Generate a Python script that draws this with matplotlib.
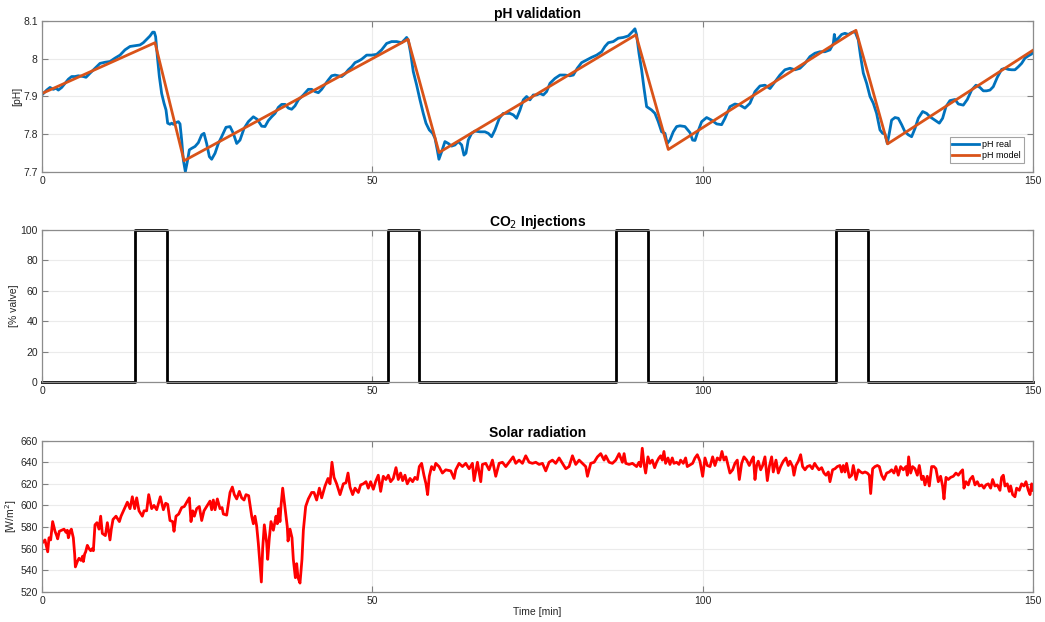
import matplotlib
matplotlib.use('Agg')
import matplotlib.pyplot as plt
import numpy as np

# pH measured (time in min, pH)
ph_real_t = [0.10, 0.71, 1.21, 1.72, 2.12, 2.47, 2.98, 3.48, 3.99, 4.49, 4.99, 5.50, 6.26, 6.66, 7.27,
             8.02, 8.78, 9.54, 10.29, 11.05, 11.81, 12.56, 13.32, 14.08, 14.83, 15.34, 15.84, 16.35,
             16.75, 17.00, 17.20, 17.46, 17.76, 18.11, 18.47, 18.77, 19.02, 19.37, 19.63, 19.88, 20.23,
             20.64, 20.89, 21.14, 21.39, 21.70, 22.00, 22.30, 22.65, 23.16, 23.66, 24.17, 24.52, 24.92,
             25.33, 25.68, 26.19, 26.69, 27.19, 27.85, 28.46, 28.96, 29.47, 29.97, 30.58, 31.23, 31.99,
             32.59, 33.25, 33.75, 34.26, 34.76, 35.27, 35.77, 36.28, 36.78, 37.29, 37.79, 38.29, 38.80,
             39.56, 40.31, 40.82, 41.32, 41.83, 42.33, 42.84, 43.34, 43.84, 44.35, 44.85, 45.36, 45.86,
             46.37, 46.87, 47.38, 47.88,
             48.38, 49.14, 49.89, 50.65, 51.41, 52.16, 52.92, 53.68, 54.43, 54.94, 55.19, 55.44, 55.80,
             56.20, 56.70, 57.21, 57.71, 58.12, 58.62, 59.13, 59.48, 59.83, 60.08, 60.49, 60.99, 61.50,
             62.00, 62.51, 63.01, 63.52, 63.87, 64.17, 64.52, 65.03, 65.53, 66.29, 67.05, 67.55, 68.06,
             68.56, 69.22, 69.82, 70.33, 70.83, 71.34, 71.84, 72.35, 72.85, 73.35, 73.86, 74.36, 74.87,
             75.37, 75.88, 76.38, 76.89, 77.64, 78.40, 79.16, 79.91, 80.42, 81.02, 81.68, 82.44, 83.19,
             83.95, 84.71, 85.21, 85.72, 86.47, 87.23, 87.99, 88.74, 89.40, 89.75, 90.00, 90.36, 90.76,
             91.12, 91.52, 92.27, 92.78, 93.28, 93.79, 94.29, 94.64, 95.05, 95.55, 96.06, 96.56, 97.32,
             98.08,
             98.48, 98.84, 99.19, 99.85, 100.60, 101.36, 102.12, 102.87, 103.38, 104.13, 104.89, 105.65,
             106.40, 107.16, 107.92, 108.68, 109.43, 110.19, 110.95, 111.70, 112.46, 113.22, 113.97,
             114.73, 115.49, 116.24, 117.00, 117.76, 118.51, 119.27, 119.78, 119.93, 120.13, 120.53,
             121.04, 121.54, 122.05, 122.55, 123.05, 123.56, 123.91, 124.32, 124.82, 125.33, 125.83,
             126.33, 126.84, 127.24, 127.60, 127.95, 128.25, 128.60, 129.11, 129.61, 130.12, 130.62,
             131.13, 131.63, 132.14, 132.64, 133.30, 133.90, 134.41, 135.16, 135.82, 136.32, 136.83,
             137.43, 138.19, 138.70, 139.45, 140.06, 140.71, 141.37, 141.97, 142.48, 142.98, 143.49,
             143.99, 144.60, 145.25, 145.76, 146.26, 146.77, 147.27, 147.78, 148.28, 148.79, 149.29,
             149.80, 150.00]
ph_real = [7.906, 7.917, 7.924, 7.919, 7.922, 7.917, 7.924, 7.935, 7.946, 7.953, 7.953, 7.955, 7.953,
           7.951, 7.962, 7.975, 7.988, 7.991, 7.993, 8.002, 8.010, 8.024, 8.033, 8.035, 8.037, 8.043,
           8.052, 8.061, 8.071, 8.071, 8.059, 8.006, 7.953, 7.908, 7.882, 7.864, 7.829, 7.826, 7.829,
           7.826, 7.830, 7.833, 7.827, 7.784, 7.731, 7.700, 7.727, 7.758, 7.762, 7.767, 7.777, 7.798,
           7.802, 7.775, 7.740, 7.733, 7.749, 7.775, 7.793, 7.818, 7.820, 7.802, 7.775, 7.784, 7.815,
           7.833, 7.846, 7.839, 7.821, 7.820, 7.836, 7.846, 7.855, 7.871, 7.879, 7.879, 7.869, 7.866,
           7.875, 7.891, 7.904, 7.919, 7.919, 7.913, 7.910, 7.919, 7.932, 7.944, 7.955, 7.957, 7.955,
           7.953, 7.960, 7.971, 7.979, 7.990, 7.994,
           7.999, 8.010, 8.010, 8.012, 8.024, 8.041, 8.046, 8.046, 8.043, 8.052, 8.057, 8.050, 8.015,
           7.966, 7.931, 7.891, 7.855, 7.829, 7.811, 7.802, 7.789, 7.758, 7.733, 7.753, 7.780, 7.775,
           7.768, 7.771, 7.780, 7.771, 7.744, 7.749, 7.784, 7.802, 7.808, 7.806, 7.806, 7.802, 7.793,
           7.811, 7.842, 7.855, 7.855, 7.855, 7.851, 7.842, 7.864, 7.891, 7.900, 7.891, 7.904, 7.904,
           7.908, 7.904, 7.913, 7.935, 7.948, 7.957, 7.957, 7.955, 7.957, 7.975, 7.990, 7.997, 8.004,
           8.010, 8.019, 8.033, 8.043, 8.046, 8.055, 8.057, 8.061, 8.073, 8.080, 8.064, 8.015, 7.971,
           7.922, 7.873, 7.864, 7.855, 7.833, 7.806, 7.802, 7.775, 7.784, 7.806, 7.820, 7.822, 7.820,
           7.804,
           7.784, 7.783, 7.802, 7.833, 7.844, 7.837, 7.827, 7.825, 7.842, 7.873, 7.880, 7.877, 7.869,
           7.882, 7.913, 7.928, 7.930, 7.921, 7.939, 7.957, 7.971, 7.975, 7.971, 7.975, 7.988, 8.006,
           8.015, 8.019, 8.019, 8.024, 8.041, 8.065, 8.046, 8.055, 8.065, 8.068, 8.065, 8.070, 8.073,
           8.050, 8.006, 7.962, 7.935, 7.900, 7.882, 7.855, 7.811, 7.802, 7.800, 7.775, 7.802, 7.837,
           7.844, 7.842, 7.825, 7.806, 7.798, 7.793, 7.815, 7.842, 7.860, 7.855, 7.846, 7.837, 7.829,
           7.842, 7.873, 7.889, 7.892, 7.880, 7.877, 7.892, 7.917, 7.930, 7.924, 7.915, 7.915, 7.917,
           7.926, 7.951, 7.972, 7.975, 7.972, 7.971, 7.971, 7.979, 7.988, 8.002, 8.008, 8.013, 8.019]

# pH model (piecewise linear)
ph_model_t = [0.0, 17.1, 21.5, 55.4, 60.1, 89.9, 94.8, 123.2, 128.0, 150.0]
ph_model = [7.908, 8.043, 7.729, 8.052, 7.751, 8.064, 7.759, 8.076, 7.774, 8.023]

# CO2 injections: valve on / off times [min]
co2_on = [14.05, 52.4, 86.9, 120.2]
co2_off = [18.9, 57.1, 91.7, 125.0]
co2_level = 100

# Solar radiation [W/m2]
solar_t = [0.00, 0.45, 0.86, 1.06, 1.31, 1.61, 1.97, 2.22, 2.37, 2.62, 2.98, 3.33, 3.63, 3.83, 3.99,
           4.24, 4.44, 4.74, 4.94, 5.05, 5.35, 5.60, 5.90, 6.16, 6.26, 6.46, 6.61, 6.86, 7.11, 7.37,
           7.62, 7.77, 8.02, 8.32, 8.63, 8.88, 9.13, 9.59, 9.89, 10.29, 10.49, 10.75, 11.20, 11.71,
           11.96, 12.41, 12.92, 13.32, 13.67, 14.03, 14.33, 14.68, 15.19, 15.44, 15.84, 16.15, 16.60,
           16.95, 17.36, 17.91, 18.37, 18.72, 19.02, 19.37, 19.78, 19.98, 20.28, 20.69, 21.14, 21.54,
           22.00, 22.30, 22.55, 22.81, 23.06, 23.41, 23.81, 24.17, 24.52, 25.43, 25.68, 25.93, 26.19,
           26.54, 26.94, 27.25, 27.45, 27.95, 28.46, 28.81, 29.11, 29.47, 29.87, 30.22, 30.58, 30.88,
           31.28, 31.74, 31.99, 32.24, 32.49, 32.74, 33.00, 33.20, 33.40, 33.65, 34.01, 34.16, 34.41,
           34.66, 35.02, 35.42, 35.62, 35.82, 36.02, 36.18, 36.43, 36.78, 37.13, 37.24, 37.54, 37.84,
           38.04, 38.35, 38.55, 38.75, 39.05, 39.35, 39.56, 39.91, 40.31, 40.82, 41.17, 41.57, 41.98,
           42.33, 42.84, 43.29, 43.59, 43.89, 44.20, 44.60, 45.11, 45.61, 46.01, 46.32, 46.62, 47.02,
           47.38, 47.88,
           48.23, 48.63, 49.04, 49.39, 49.74, 50.15, 50.55, 50.90, 51.26, 51.66, 52.06, 52.42, 52.77,
           53.17, 53.58, 53.93, 54.28, 54.59, 54.94, 55.29, 55.70, 56.10, 56.45, 56.81, 57.11, 57.46,
           57.81, 58.12, 58.37, 58.62, 58.97, 59.33,
           59.60, 60.10, 60.61, 61.11, 61.87, 62.37, 62.63, 63.13, 63.64, 64.14, 64.65, 65.15, 65.40,
           65.91, 66.41, 66.66, 67.17, 67.67, 68.18, 68.68, 69.19, 69.69, 70.20, 70.70, 71.31, 71.71,
           72.21, 72.72, 73.22, 73.73, 74.23, 74.74, 75.24, 75.75, 76.25, 76.75, 77.26, 77.76, 78.27,
           78.77, 79.28, 79.78, 80.29, 80.79, 81.30, 81.80, 82.30, 82.56, 83.06, 83.57, 84.07, 84.57,
           85.08, 85.33, 85.84, 86.34, 86.85, 87.35, 87.85, 88.11, 88.36, 88.86, 89.37,
           90.00, 90.36, 90.61, 90.86, 91.11, 91.37, 91.72, 92.02, 92.37, 92.73, 93.03, 93.38, 93.64,
           93.89, 94.14, 94.39, 94.75, 95.05, 95.40, 95.65, 96.06, 96.41, 96.66, 97.07, 97.42, 97.67,
           98.48, 98.84, 99.19, 99.59, 100.00, 100.35, 100.70, 101.11, 101.51, 101.86, 102.22, 102.62,
           102.92, 103.23, 103.53, 103.88, 104.13, 104.54, 104.89, 105.24, 105.55, 105.90, 106.25,
           106.66, 107.06, 107.41, 107.67, 107.92, 108.17, 108.42, 108.78, 109.08, 109.43, 109.79,
           110.09, 110.44, 110.69, 111.10, 111.45, 111.80, 112.21, 112.61, 112.96, 113.22, 113.62,
           113.82, 114.12, 114.48, 114.83, 115.13, 115.49, 115.84, 116.24, 116.60, 116.95, 117.25,
           117.61, 118.01, 118.36, 118.67, 119.02, 119.27, 119.67, 120.03, 120.38, 120.78, 121.04,
           121.29, 121.54, 121.79, 122.20, 122.55, 122.80, 123.21, 123.56, 123.91, 124.21, 124.57,
           124.92, 125.22, 125.43, 125.73, 126.08, 126.44, 126.74, 127.09, 127.44, 127.85, 128.25,
           128.60, 128.96, 129.26, 129.61, 129.97, 130.37, 130.77, 130.98, 131.18, 131.48, 131.78,
           132.14, 132.49, 132.79, 133.15, 133.40, 133.65, 134.00, 134.31, 134.66, 135.01, 135.31,
           135.67, 136.02, 136.32, 136.53, 136.83, 137.18, 137.54, 137.94, 138.34, 138.70, 139.05,
           139.35, 139.55, 139.86, 140.21, 140.46, 140.87, 141.22, 141.57, 141.88, 142.23, 142.58,
           142.88, 143.24, 143.59, 143.89, 144.24, 144.60, 145.00, 145.25, 145.51, 145.76, 146.11,
           146.41, 146.62, 146.92, 147.27, 147.52, 147.93, 148.28, 148.63, 148.94, 149.29, 149.55,
           149.80, 150.00]
solar = [565, 568, 557, 570, 568, 585, 576, 572, 569, 576, 577, 578, 575, 577, 570,
         576, 578, 570, 555, 543, 548, 551, 549, 553, 548, 555, 557, 563, 560, 558,
         560, 558, 582, 584, 578, 590, 574, 572, 584, 568, 578, 587, 590, 585,
         590, 596, 603, 597, 608, 597, 607, 595, 590, 595, 595, 610, 597,
         600, 596, 608, 596, 602, 601, 586, 585, 576, 590, 592, 598, 599,
         604, 607, 585, 595, 590, 597, 599, 586, 595, 604, 596, 605, 596,
         606, 597, 598, 592, 591, 612, 617, 610, 606, 613, 607, 605, 610,
         609, 590, 583, 590, 581, 565, 545, 529, 560, 582, 565, 550, 570,
         585, 577, 590, 583, 597, 585, 600, 616, 598, 580, 567, 578, 570,
         550, 533, 546, 533, 528, 550, 577, 599, 606, 612, 612, 605, 616,
         607, 618, 625, 620, 640, 626, 620, 610, 620, 621, 630, 617, 610,
         616, 612,
         619, 620, 622, 616, 622, 615, 623, 628, 613, 627, 624, 628, 622,
         625, 635, 624, 630, 623, 628, 620, 625, 622, 626, 624, 636, 639,
         628, 620, 610, 627, 636, 633,
         639, 636, 630, 633, 632, 625, 633, 639, 636, 639, 634, 639, 623,
         640, 622, 638, 639, 633, 642, 627, 639, 640, 636, 640, 645, 639,
         642, 639, 646, 640, 639, 640, 638, 639, 632, 640, 642, 639, 644,
         639, 634, 636, 646, 638, 642, 639, 636, 627, 639, 640, 645, 648,
         642, 646, 640, 639, 642, 648, 640, 648, 639, 638, 639,
         636, 640, 636, 653, 639, 630, 645, 639, 642, 635, 640, 644, 646,
         642, 650, 639, 644, 638, 644, 639, 640, 638, 642, 639, 644, 636,
         639, 644, 647, 641, 627, 644, 637, 636, 645, 637, 644, 642,
         650, 642, 645, 636, 630, 633, 639, 642, 624, 639, 645,
         642, 637, 642, 645, 624, 637, 641, 633, 637, 645, 623,
         636, 645, 631, 642, 630, 636, 641, 644, 637, 641, 636,
         628, 637, 641, 647, 636, 633, 636, 637, 634, 639, 636,
         633, 635, 630, 628, 631, 622, 633, 634, 636, 637, 631,
         637, 631, 639, 626, 628, 637, 624, 633, 631, 630, 631,
         630, 628, 611, 634, 636, 637, 636, 628, 624, 630, 631,
         633, 630, 636, 628, 636, 633, 636, 628, 645, 630, 636,
         634, 628, 637, 624, 627, 619, 627, 618, 636, 636, 634,
         622, 627, 618, 606, 626, 624, 626, 627, 630, 628, 631,
         633, 616, 622, 619, 624, 627, 619, 622, 618, 619, 616,
         619, 620, 616, 624, 618, 619, 614, 626, 628, 618, 620,
         613, 618, 610, 608, 616, 614, 620, 618, 622, 614, 610,
         620, 614]

x_ticks = [0, 50, 100, 150]


def style_axes(ax):
    ax.set_xlim(0, 150)
    ax.set_xticks(x_ticks)
    ax.grid(True, color='#ebebeb', linewidth=0.8)
    ax.set_axisbelow(True)
    ax.tick_params(direction='in', length=4, width=0.8, colors='#808080',
                   labelcolor='#262626', labelsize=7.5, top=True, right=True, pad=3)
    for s in ax.spines.values():
        s.set_color('#8c8c8c')
        s.set_linewidth(0.9)


def main():
    plt.rcParams['font.family'] = ['Liberation Sans', 'DejaVu Sans']

    fig = plt.figure(figsize=(10.45, 6.22), dpi=100)
    ax1 = fig.add_axes([0.0402, 0.7240, 0.9483, 0.2418])
    ax2 = fig.add_axes([0.0402, 0.3859, 0.9483, 0.2444])
    ax3 = fig.add_axes([0.0402, 0.0487, 0.9483, 0.2428])

    # pH
    style_axes(ax1)
    ax1.plot(ph_real_t, ph_real, color='#0072BD', linewidth=2, label='pH real')
    ax1.plot(ph_model_t, ph_model, color='#D95319', linewidth=2, label='pH model')
    ax1.set_ylim(7.7, 8.1)
    ax1.set_yticks([7.7, 7.8, 7.9, 8.0, 8.1])
    ax1.set_yticklabels(['7.7', '7.8', '7.9', '8', '8.1'])
    ax1.set_ylabel('[pH]', fontsize=7.5, color='#262626', labelpad=1)
    ax1.set_title('pH validation', fontsize=10, fontweight='bold', pad=2.5)
    leg = ax1.legend(loc='lower right', fontsize=6.5, frameon=True, fancybox=False,
                     handlelength=3.0, handletextpad=0.3, borderpad=0.3, labelspacing=0.2,
                     bbox_to_anchor=(0.995, 0.03))
    leg.get_frame().set_edgecolor('#8c8c8c')
    leg.get_frame().set_linewidth(0.8)

    # CO2 injections
    style_axes(ax2)
    t = [0.0]
    v = [0]
    for on, off in zip(co2_on, co2_off):
        t += [on, on, off, off]
        v += [0, co2_level, co2_level, 0]
    t.append(150.0)
    v.append(0)
    ax2.plot(t, v, color='black', linewidth=2, clip_on=False)
    ax2.set_ylim(0, 100)
    ax2.set_yticks(np.arange(0, 101, 20))
    ax2.set_ylabel('[% valve]', fontsize=7.5, color='#262626', labelpad=1)
    ax2.set_title('CO$_2$ Injections', fontsize=10, fontweight='bold', pad=2.5)

    # Solar radiation
    style_axes(ax3)
    ax3.plot(solar_t, solar, color='red', linewidth=2)
    ax3.set_ylim(520, 660)
    ax3.set_yticks(np.arange(520, 661, 20))
    ax3.set_ylabel('[W/m$^2$]', fontsize=7.5, color='#262626', labelpad=1)
    ax3.set_xlabel('Time [min]', fontsize=7.5, color='#262626', labelpad=1)
    ax3.set_title('Solar radiation', fontsize=10, fontweight='bold', pad=2.5)

    fig.savefig('out.png', dpi=100)


if __name__ == '__main__':
    main()
